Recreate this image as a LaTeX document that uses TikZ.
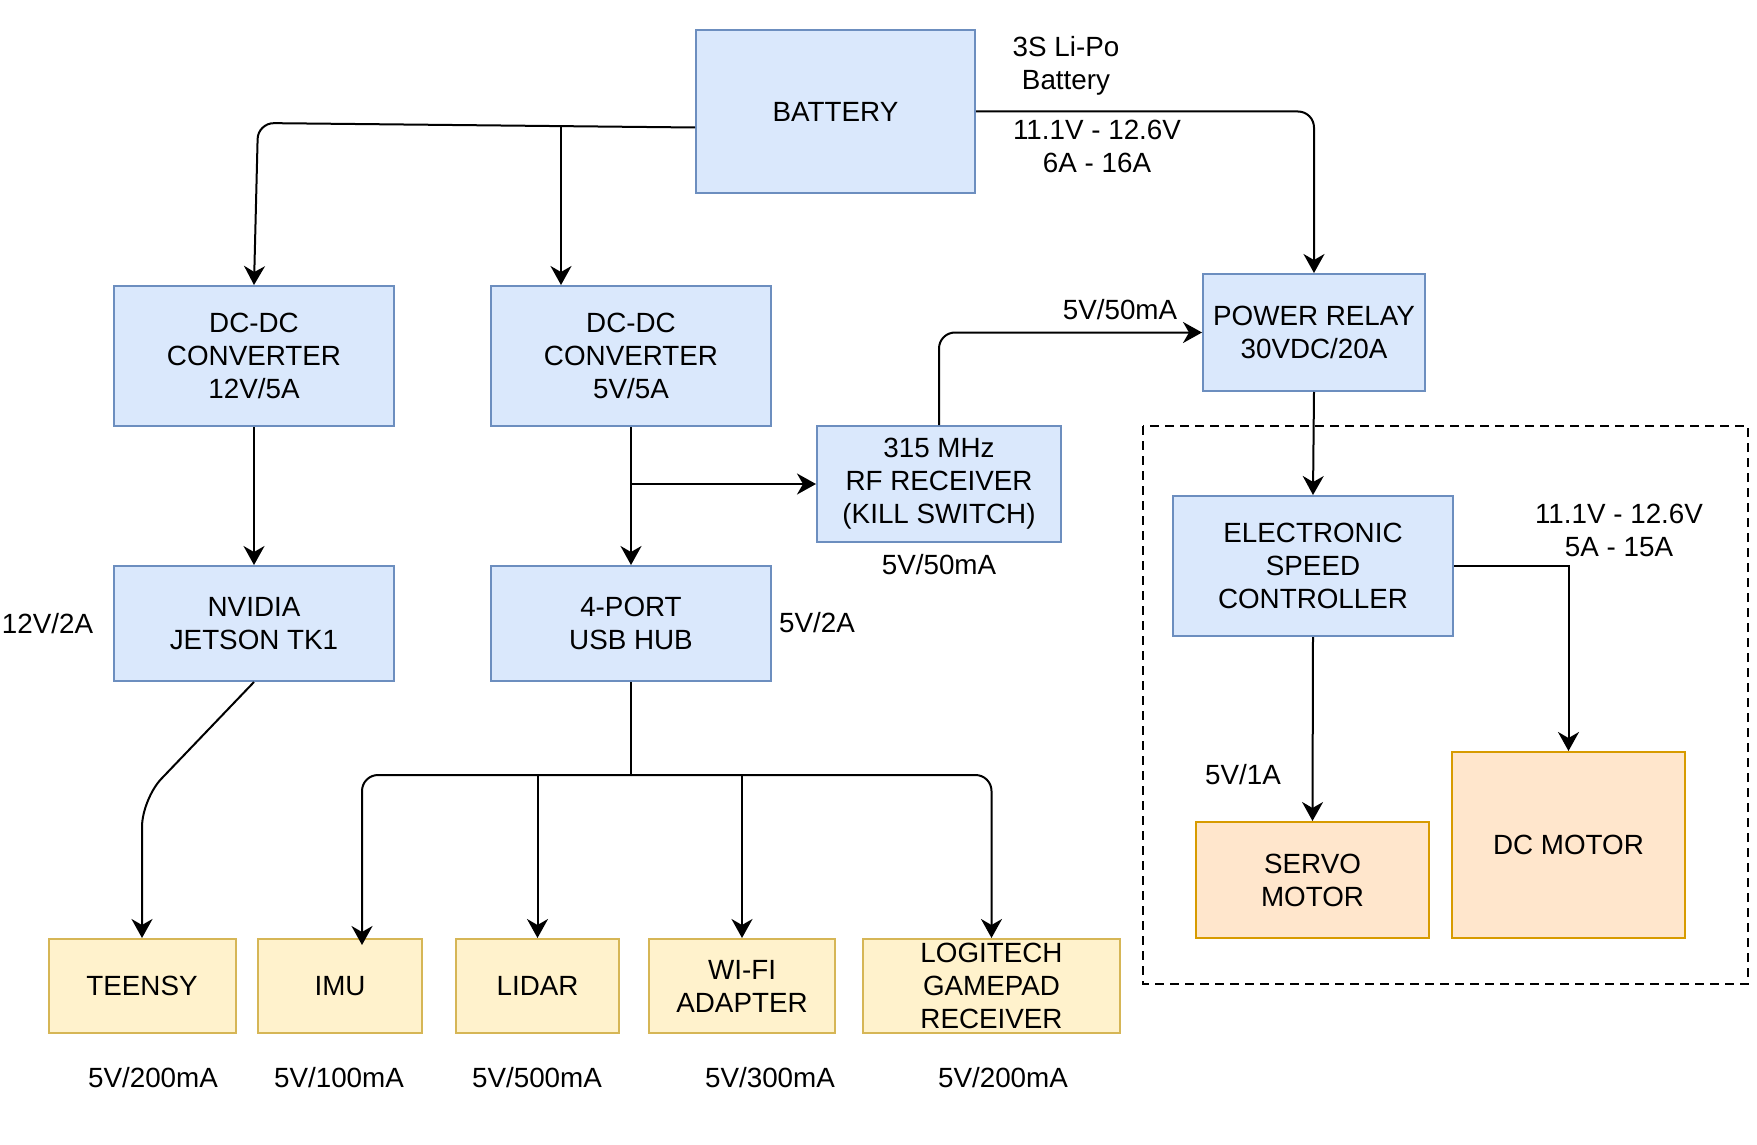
\documentclass[tikz,border=0pt]{standalone}
\usepackage{fontspec}
\setmainfont{Liberation Sans}
\usepackage{tikz}
\usetikzlibrary{calc}
\usetikzlibrary{arrows.meta}
\usetikzlibrary{positioning}
\definecolor{boxblue}{RGB}{218, 232, 252}
\definecolor{lineblue}{RGB}{108, 142, 191}
\definecolor{boxyellow}{RGB}{255, 242, 204}
\definecolor{lineyellow}{RGB}{214, 182, 86}
\definecolor{boxorange}{RGB}{255, 230, 204}
\definecolor{lineorange}{RGB}{215, 155, 0}

\tikzset{
    blk/.style={rectangle, line width=1pt, inner sep=0pt, align=center},
    bluebox/.style={blk, draw=lineblue, fill=boxblue},
    yellowbox/.style={blk, draw=lineyellow, fill=boxyellow, minimum height=47pt},
    orangebox/.style={blk, draw=lineorange, fill=boxorange},
    lbl/.style={align=center, inner sep=0pt},
    wire/.style={line width=1pt, draw=black},
    arr/.style={wire, -{Stealth[length=9.5pt, width=10.5pt, inset=3pt]}}
}

\begin{document}
\begin{tikzpicture}[x=0.5pt, y=-0.5pt, font=\fontsize{13.9}{16.5}\selectfont]
            \useasboundingbox (0,0) rectangle (1757,1145);
            \draw[black, line width=1pt, dash pattern=on 4.5pt off 3pt] (1143,426) rectangle (1748,984);

            \node[bluebox,   minimum width=139.5pt, minimum height=81.5pt] (bat)    at ( 835.5, 111.5) {BATTERY};
            \node[bluebox,   minimum width=140pt,   minimum height=70pt]   (dc12)   at ( 254.0, 356.0) {DC-DC\\CONVERTER\\12V/5A};
            \node[bluebox,   minimum width=140pt,   minimum height=70pt]   (dc5)    at ( 631.0, 356.0) {DC-DC\\CONVERTER\\5V/5A};
            \node[bluebox,   minimum width=140pt,   minimum height=57.5pt] (jet)    at ( 254.0, 623.5) {NVIDIA\\JETSON TK1};
            \node[bluebox,   minimum width=140pt,   minimum height=57.5pt] (hub)    at ( 631.0, 623.5) {4-PORT\\USB HUB};
            \node[bluebox,   minimum width=122pt,   minimum height=58pt]   (rf)     at ( 939.0, 484.0) {315 MHz\\RF RECEIVER\\(KILL SWITCH)};
            \node[bluebox,   minimum width=111pt,   minimum height=58.5pt] (relay)  at (1314.0, 332.5) {POWER RELAY\\30VDC/20A};
            \node[bluebox,   minimum width=140pt,   minimum height=70pt]   (esc)    at (1313.0, 566.0) {ELECTRONIC\\SPEED\\CONTROLLER};
            \node[orangebox, minimum width=116.5pt, minimum height=58pt]   (servo)  at (1312.5, 880.0) {SERVO\\MOTOR};
            \node[orangebox, minimum width=116.5pt, minimum height=93pt]   (motor)  at (1568.5, 845.0) {DC MOTOR};
            \node[yellowbox, minimum width=93.5pt]  (teensy) at ( 142.0, 986.0) {TEENSY};
            \node[yellowbox, minimum width=82pt]    (imu)    at ( 340.0, 986.0) {IMU};
            \node[yellowbox, minimum width=81.5pt]  (lidar)  at ( 537.5, 986.0) {LIDAR};
            \node[yellowbox, minimum width=93pt]    (wifi)   at ( 742.0, 986.0) {WI-FI\\ADAPTER};
            \node[yellowbox, minimum width=128.5pt] (logi)   at ( 991.5, 986.0) {LOGITECH\\GAMEPAD\\RECEIVER};

            \node[lbl] (lipo)    at (1066.0,  65.5) {3S Li-Po\\Battery};
            \node[lbl] (batv)    at (1097.0, 146.5) {11.1V - 12.6V\\6A - 16A};
            \node[lbl] (relayv)  at (1120.0, 310.0) {5V/50mA};
            \node[lbl] (rfv)     at ( 939.0, 565.0) {5V/50mA};
            \node[lbl] (jetv)    at (  47.5, 624.0) {12V/2A};
            \node[lbl] (hubv)    at ( 817.0, 623.0) {5V/2A};
            \node[lbl] (servov)  at (1243.0, 775.0) {5V/1A};
            \node[lbl] (motorv)  at (1619.0, 530.0) {11.1V - 12.6V\\5A - 15A};
            \node[lbl] (teensyv) at ( 153.0,1078.0) {5V/200mA};
            \node[lbl] (imuv)    at ( 339.0,1078.0) {5V/100mA};
            \node[lbl] (lidarv)  at ( 537.0,1078.0) {5V/500mA};
            \node[lbl] (wifiv)   at ( 770.0,1078.0) {5V/300mA};
            \node[lbl] (logiv)   at (1003.0,1078.0) {5V/200mA};

            \coordinate (tap5)  at (561,126.5);
            \coordinate (tbend) at (142,799);
            \coordinate (bus)   at (631,775);

            \draw[arr, rounded corners=8pt] ([yshift=-8pt]bat.west) -- (258,123) -- (dc12.north);
            \draw[arr] (tap5) -- (tap5 |- dc5.north);
            \draw[arr, rounded corners=8pt] (bat.east) -| (relay.north);
            \draw[arr] (dc12.south) -- (jet.north);
            \draw[arr] (dc5.south) -- (hub.north);
            \draw[arr] (dc5.south |- rf.west) -- (rf.west);
            \draw[arr, rounded corners=8pt] (rf.north) |- (relay.west);
            \draw[arr] (relay.south) -- (esc.north);
            \draw[arr] (esc.south) -- (servo.north);
            \draw[arr] (esc.east) -| (motor.north);
            \draw[arr, rounded corners=14pt] (jet.south) -- (tbend) -- (teensy.north);
            \draw[wire] (hub.south) -- (bus);
            \draw[arr, rounded corners=8pt] (bus) -| ([xshift=11pt, yshift=-3.5pt]imu.north);
            \draw[arr] (bus -| lidar.north) -- (lidar.north);
            \draw[arr] (bus -| wifi.north) -- (wifi.north);
            \draw[arr, rounded corners=8pt] (bus) -| (logi.north);
        \end{tikzpicture}
\end{document}
